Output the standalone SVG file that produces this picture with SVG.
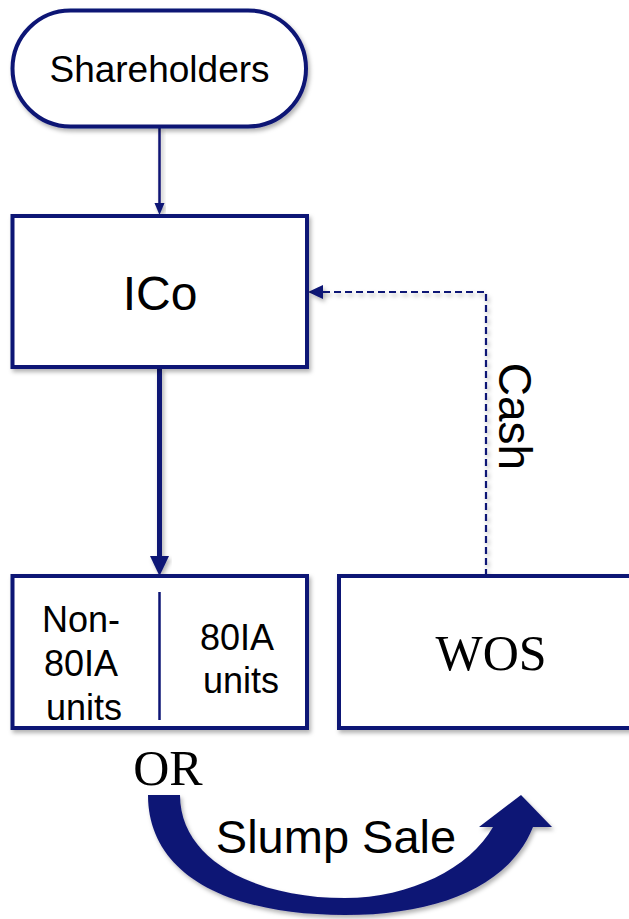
<svg xmlns="http://www.w3.org/2000/svg" width="629" height="919" viewBox="0 0 629 919">
  <defs>
    <filter id="shadow" x="-10%" y="-10%" width="125%" height="125%">
      <feDropShadow dx="2" dy="3" stdDeviation="2" flood-color="#000" flood-opacity="0.3"/>
    </filter>
    <style>
      .box { fill: #fff; stroke: #0d1475; stroke-width: 4; filter: url(#shadow); }
      .sans { font-family: "Liberation Sans", Arial, sans-serif; fill: #000; }
      .serif { font-family: "Liberation Serif", "Times New Roman", serif; fill: #000; }
      .link { stroke: #0d1475; fill: none; }
      .head { fill: #0d1475; }
    </style>
  </defs>

  <!-- connectors -->
  <g id="connectors">
    <g filter="url(#shadow)">
      <line class="link" x1="159.5" y1="127" x2="159.5" y2="204" stroke-width="2.5"/>
      <polygon class="head" points="154.5,203 164.5,203 159.5,215"/>
    </g>
    <g filter="url(#shadow)">
      <line class="link" x1="159.5" y1="368" x2="159.5" y2="557" stroke-width="5"/>
      <polygon class="head" points="150,556 169,556 159.5,576"/>
    </g>
    <g filter="url(#shadow)">
      <path class="link" d="M486,576 V292 H322" stroke-width="2.2" stroke-dasharray="7 4"/>
      <polygon class="head" points="308,292 323,285 323,299"/>
    </g>
    <text class="sans" font-size="46" transform="translate(499,416.5) rotate(90)" text-anchor="middle">Cash</text>
  </g>

  <!-- Shareholders -->
  <g id="shareholders">
    <rect class="box" x="12.5" y="10.5" width="293.5" height="116" rx="58" ry="58" stroke-width="3.5"/>
    <text class="sans" x="159.5" y="82" font-size="37" text-anchor="middle">Shareholders</text>
  </g>

  <!-- ICo -->
  <g id="ico">
    <rect class="box" x="12.5" y="216" width="294.5" height="151"/>
    <text class="sans" x="160" y="310" font-size="48" text-anchor="middle">ICo</text>
  </g>

  <!-- ICo units split into non-80IA and 80IA -->
  <g id="units">
    <rect class="box" x="12.5" y="576" width="294.5" height="152"/>
    <line x1="159.5" y1="592" x2="159.5" y2="720" stroke="#0d1475" stroke-width="2.5"/>
    <text class="sans" font-size="36" text-anchor="middle">
      <tspan x="86" y="632">Non-</tspan>
      <tspan x="85" y="676">80IA</tspan>
      <tspan x="84" y="720">units</tspan>
    </text>
    <text class="sans" font-size="36" text-anchor="middle">
      <tspan x="241" y="650">80IA</tspan>
      <tspan x="241" y="693">units</tspan>
    </text>
  </g>

  <!-- WOS -->
  <g id="wos">
    <rect class="box" x="339" y="576" width="300" height="152"/>
    <text class="serif" x="491" y="670" font-size="50" text-anchor="middle">WOS</text>
  </g>

  <!-- slump sale transfer -->
  <g id="slump-sale">
    <text class="serif" x="168" y="785" font-size="50" text-anchor="middle">OR</text>
    <path class="head" filter="url(#shadow)" d="M148,795 C148,870 220,915 345,915 C440,915 510,885 533,827 L552,827 L521,795 L479,827 L493,827 C470,868 410,898 345,898 C255,898 180,860 180,795 Z"/>
    <text class="sans" x="336" y="853" font-size="47" text-anchor="middle">Slump Sale</text>
  </g>
</svg>
